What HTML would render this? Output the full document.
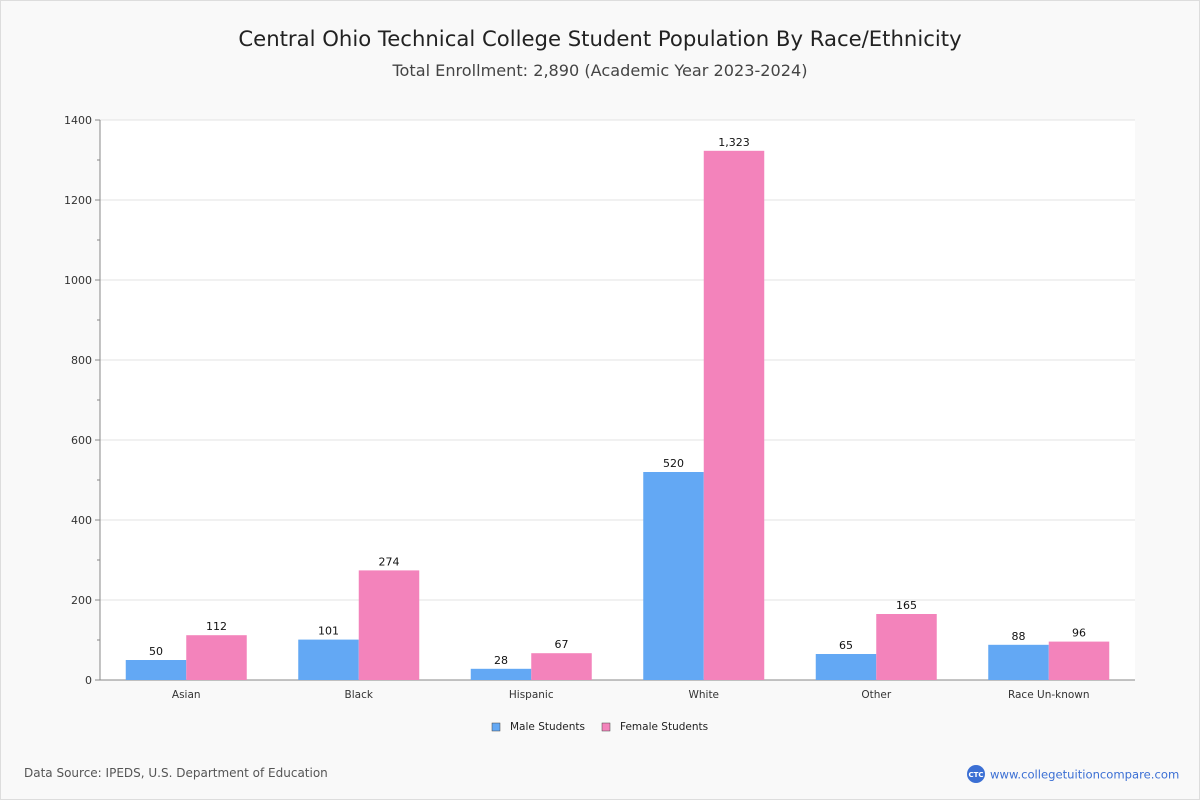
<!DOCTYPE html>
<html><head><meta charset="utf-8"><style>
body{margin:0;width:1200px;height:800px;background:#f9f9f9;font-family:"DejaVu Sans","Liberation Sans",sans-serif;overflow:hidden}
#frame{position:absolute;left:0;top:0;width:1198px;height:798px;border:1px solid #ddd}
</style></head><body>
<div id="frame"></div>
<svg width="1200" height="800" style="position:absolute;left:0;top:0" id="chart">
<text x="600" y="46" text-anchor="middle" font-size="21.2" fill="#222">Central Ohio Technical College Student Population By Race/Ethnicity</text>
<text x="600" y="76" text-anchor="middle" font-size="16.1" fill="#444">Total Enrollment: 2,890 (Academic Year 2023-2024)</text>
<rect x="100" y="120" width="1035" height="560" fill="#fff"/>
<g id="grid"></g><g id="bars"></g>
<g>
<rect x="492" y="723" width="8" height="8" fill="#63a8f4" stroke="#444" stroke-width="0.5"/>
<text x="510" y="730" font-size="10.5" fill="#222">Male Students</text>
<rect x="602" y="723" width="8" height="8" fill="#f383bb" stroke="#444" stroke-width="0.5"/>
<text x="620" y="730" font-size="10.5" fill="#222">Female Students</text>
</g>
<text x="24" y="777" font-size="12" fill="#555">Data Source: IPEDS, U.S. Department of Education</text>
<circle cx="976" cy="774" r="9" fill="#3b6fd4"/>
<text x="976" y="777" text-anchor="middle" font-size="7" font-weight="bold" fill="#fff">CTC</text>
<text x="990" y="778.5" font-size="11.6" fill="#3b6fd4">www.collegetuitioncompare.com</text>
</svg>
<script>
const categories=["Asian","Black","Hispanic","White","Other","Race Un-known"];
const maleValues=[50,101,28,520,65,88];
const femaleValues=[112,274,67,1323,165,96];
const yTicks=[0,200,400,600,800,1000,1200,1400];
const NS="http://www.w3.org/2000/svg";
const X0=100,X1=1135,Y0=680,Y1=120,YMAX=1400;
const y=v=>Y0-(v/YMAX)*(Y0-Y1);
const band=(X1-X0)/categories.length;
const xc=i=>X0+band*(i+0.5);
function mk(t,a,p){const e=document.createElementNS(NS,t);for(const k in a)e.setAttribute(k,a[k]);p.appendChild(e);return e;}
const grid=document.getElementById('grid'),bars=document.getElementById('bars');
yTicks.forEach(v=>{
 if(v>0){const l=mk('line',{x1:X0,x2:X1,y1:y(v),y2:y(v),stroke:'#e3e3e3'},grid);
 
 }
 mk('line',{x1:X0-5,x2:X0,y1:y(v),y2:y(v),stroke:'#888'},grid);
 const m=mk('line',{x1:X0-3,x2:X0,y1:y(v+100),y2:y(v+100),stroke:'#888'},grid);
 if(v+100>YMAX)m.remove();
 const t=mk('text',{x:X0-8,y:y(v)+4,'text-anchor':'end','font-size':11,fill:'#333'},grid);
 t.textContent=v;
 
 
});
mk('line',{x1:X0,x2:X0,y1:Y1,y2:Y0,stroke:'#888'},grid);
mk('line',{x1:X0,x2:X1,y1:Y0,y2:Y0,stroke:'#888'},grid);
const bw=60.5;
const fmt=v=>v.toLocaleString('en-US');
categories.forEach((c,i)=>{
 [[maleValues[i],'#63a8f4',-bw,'male'],[femaleValues[i],'#f383bb',0,'female']].forEach(([v,col,off,s])=>{
  const r=mk('rect',{x:xc(i)+off,y:y(v),width:bw,height:Y0-y(v),fill:col},bars);
  
  
  const t=mk('text',{x:xc(i)+off+bw/2,y:y(v)-5,'text-anchor':'middle','font-size':11,fill:'#111'},bars);
  t.textContent=fmt(v);
  
  
 });
 const t=mk('text',{x:xc(i),y:698,'text-anchor':'middle','font-size':10.5,fill:'#333'},bars);
 t.textContent=c;
 
 
});
</script>
</body></html>
